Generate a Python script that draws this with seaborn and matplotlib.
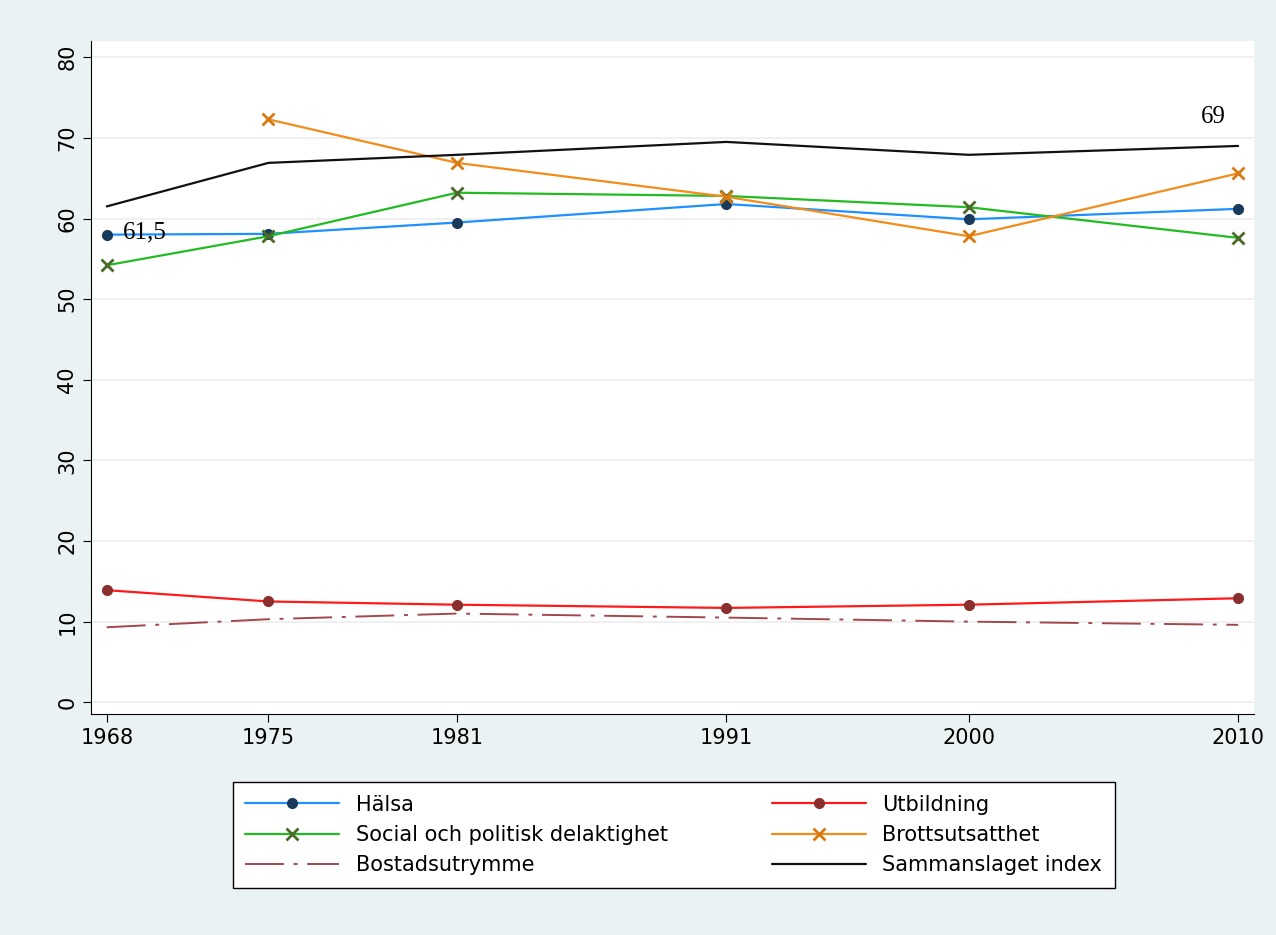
import matplotlib
matplotlib.use("Agg")
import matplotlib.pyplot as plt
import seaborn as sns
import pandas as pd

years = [1968, 1974, 1981, 1991, 2000, 2010]
tick_labels = ["1968", "1975", "1981", "1991", "2000", "2010"]
halsa = [58.0, 58.1, 59.5, 61.8, 59.9, 61.2]
social = [54.2, 57.8, 63.2, 62.8, 61.4, 57.6]
brott = [None, 72.3, 66.9, 62.7, 57.8, 65.6]
samman = [61.5, 66.9, 67.9, 69.5, 67.9, 69.0]
utbild = [13.9, 12.5, 12.1, 11.7, 12.1, 12.9]
bostad = [9.3, 10.3, 11.0, 10.5, 10.0, 9.6]

sns.set_style("white")
plt.rcParams["text.color"] = "black"
plt.rcParams["xtick.color"] = "black"
plt.rcParams["ytick.color"] = "black"
fig = plt.figure(figsize=(12.76, 9.35), dpi=100, facecolor="#EAF2F3")
ax = fig.add_axes([0.071, 0.236, 0.912, 0.72])
ax.set_facecolor("white")

def line(y, color, label, marker=None, mcolor=None):
    df = pd.DataFrame({"x": years, "y": y}).dropna()
    sns.lineplot(data=df, x="x", y="y", ax=ax, color=color, label=label,
                 marker=marker, markersize=(9 if marker == "x" else 7) if marker else 0,
                 markerfacecolor=mcolor, markeredgecolor=mcolor,
                 markeredgewidth=2 if marker == "x" else 1, linewidth=1.6)

line(halsa, "#1E90FF", "Hälsa", "o", "#1A3A5C")
line(utbild, "#FF1A1A", "Utbildning", "o", "#8B2E2E")
line(social, "#22BB22", "Social och politisk delaktighet", "x", "#4A6A2A")
line(brott, "#F28C1A", "Brottsutsatthet", "x", "#D97A10")
ls_b = (0, (20, 5, 2, 5))
sns.lineplot(x=years, y=bostad, ax=ax, color="#A0484C", label="Bostadsutrymme",
             linewidth=1.4, linestyle=ls_b)
line(samman, "#111111", "Sammanslaget index")

ax.set_xlim(1968 - 0.6, 2010 + 0.6)
ax.set_ylim(-1.5, 82)
ax.set_xticks(years)
ax.set_xticklabels(tick_labels, fontsize=15)
ax.set_yticks(range(0, 81, 10))
ax.set_yticklabels([str(v) for v in range(0, 81, 10)], fontsize=15, rotation=90, va="center")
ax.yaxis.grid(True, color="#EEEEEE", linewidth=1.2)
ax.set_xlabel("")
ax.set_ylabel("")
for s in ["top", "right"]:
    ax.spines[s].set_visible(False)
for s in ["left", "bottom"]:
    ax.spines[s].set_color("black")
ax.tick_params(axis="both", which="both", length=6, color="black", left=True, bottom=True)

ax.text(1968.6, 58.3, "61,5", fontsize=18, family="Liberation Serif", va="center")
ax.text(2008.6, 72.6, "69", fontsize=18, family="Liberation Serif", va="center")

h, l = ax.get_legend_handles_labels()
ax.get_legend().remove()
order = [0, 2, 4, 1, 3, 5]
leg = fig.legend([h[i] for i in order], [l[i] for i in order], ncol=2, loc="center",
                 bbox_to_anchor=(0.528, 0.107),
                 fontsize=15, frameon=True, fancybox=False, edgecolor="black",
                 facecolor="white", framealpha=1,
                 columnspacing=5, handlelength=4.5, borderpad=0.6, labelspacing=0.5)
leg.get_frame().set_linewidth(1)
fig.savefig("out.png", dpi=100, facecolor=fig.get_facecolor())
